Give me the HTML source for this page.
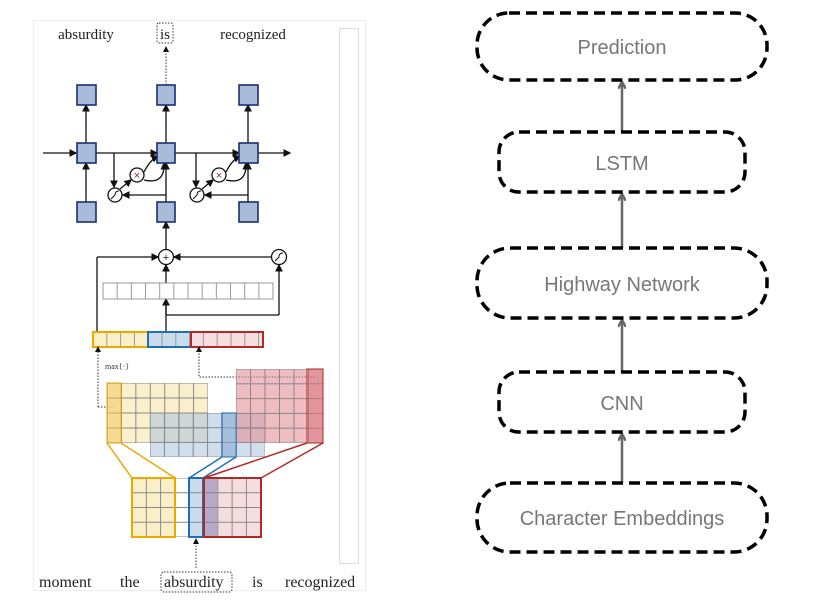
<!DOCTYPE html>
<html><head><meta charset="utf-8"><style>
html,body{margin:0;padding:0;background:#fff;width:831px;height:613px;overflow:hidden}
svg{display:block}
.w{font-family:"Liberation Serif",serif;font-size:15px;fill:#222}
.b{font-family:"Liberation Serif",serif;font-size:16px;fill:#222}
.r{font-family:"Liberation Sans",sans-serif;font-size:20px;fill:#777;text-anchor:middle}
</style></head><body>
<svg width="831" height="613" viewBox="0 0 831 613">
<defs>
<marker id="a" markerWidth="6" markerHeight="6" refX="5" refY="3" orient="auto"><path d="M0,0 L6,3 L0,6z" fill="#111"/></marker>
<marker id="g" markerWidth="8" markerHeight="8" refX="6" refY="4" orient="auto" markerUnits="userSpaceOnUse"><path d="M0,0 L7,4 L0,8" fill="none" stroke="#666" stroke-width="2.5"/></marker>
<pattern id="cy" x="107" y="383" width="14.43" height="15" patternUnits="userSpaceOnUse"><rect width="14.43" height="15" fill="none" stroke="#888" stroke-width="1"/></pattern>
<pattern id="cb" x="150" y="413" width="14.4" height="14.7" patternUnits="userSpaceOnUse"><rect width="14.4" height="14.7" fill="none" stroke="#888" stroke-width="1"/></pattern>
<pattern id="cr" x="236" y="369" width="14.5" height="14.8" patternUnits="userSpaceOnUse"><rect width="14.5" height="14.8" fill="none" stroke="#888" stroke-width="1"/></pattern>
<pattern id="cs" x="132" y="478" width="14.3" height="14.75" patternUnits="userSpaceOnUse"><rect width="14.3" height="14.75" fill="none" stroke="#888" stroke-width="1"/></pattern>
<pattern id="cbar" x="103" y="283" width="14.17" height="16" patternUnits="userSpaceOnUse"><rect width="14.17" height="16" fill="none" stroke="#999" stroke-width="1"/></pattern>
<pattern id="cv" x="93" y="332" width="13.8" height="15" patternUnits="userSpaceOnUse"><rect width="13.8" height="15" fill="none" stroke="#999" stroke-width="1"/></pattern>
</defs>
<rect x="33.5" y="20.5" width="332" height="570" fill="#fff" stroke="#eee"/>
<rect x="339.5" y="28.5" width="19" height="535" fill="#fff" stroke="#ddd"/>
<text class="w" x="86" y="39" text-anchor="middle">absurdity</text>
<text class="w" x="165" y="39" text-anchor="middle">is</text>
<rect x="157" y="23" width="16" height="20" rx="2" fill="none" stroke="#333" stroke-dasharray="1.5,1.5"/>
<text class="w" x="253" y="39" text-anchor="middle">recognized</text>
<line x1="166" y1="85" x2="166" y2="47" stroke="#333" stroke-dasharray="1.5,1.5" marker-end="url(#a)"/>
<g stroke="#111" stroke-width="1.3" fill="none">
<line x1="43" y1="153" x2="76" y2="153" marker-end="url(#a)"/>
<line x1="96" y1="153" x2="157" y2="153" marker-end="url(#a)"/>
<line x1="175" y1="153" x2="239" y2="153" marker-end="url(#a)"/>
<line x1="258" y1="153" x2="290" y2="153" marker-end="url(#a)"/>
<line x1="86" y1="143" x2="86" y2="105" marker-end="url(#a)"/>
<line x1="166" y1="143" x2="166" y2="105" marker-end="url(#a)"/>
<line x1="248" y1="143" x2="248" y2="105" marker-end="url(#a)"/>
<line x1="86" y1="202" x2="86" y2="163" marker-end="url(#a)"/>
<line x1="166" y1="202" x2="166" y2="163" marker-end="url(#a)"/>
<line x1="248" y1="202" x2="248" y2="163" marker-end="url(#a)"/>
<line x1="114" y1="153" x2="114" y2="187" marker-end="url(#a)"/>
<line x1="196" y1="153" x2="196" y2="187" marker-end="url(#a)"/>
<line x1="166" y1="195" x2="123" y2="195" marker-end="url(#a)"/>
<line x1="248" y1="195" x2="205" y2="195" marker-end="url(#a)"/>
<line x1="120" y1="189" x2="131" y2="180" marker-end="url(#a)"/>
<line x1="202" y1="189" x2="213" y2="180" marker-end="url(#a)"/>
<path d="M144,172 Q150,160 158,156" marker-end="url(#a)"/>
<path d="M144,180 Q165,185 164,163" marker-end="url(#a)"/>
<path d="M226,172 Q232,160 240,156" marker-end="url(#a)"/>
<path d="M226,180 Q247,185 246,163" marker-end="url(#a)"/>
<line x1="166" y1="249" x2="166" y2="222" marker-end="url(#a)"/>
<line x1="97" y1="332" x2="97" y2="257"/>
<line x1="97" y1="257" x2="158" y2="257" marker-end="url(#a)"/>
<line x1="271" y1="257" x2="174" y2="257" marker-end="url(#a)"/>
<line x1="279" y1="315" x2="279" y2="265" marker-end="url(#a)"/>
<line x1="166" y1="315" x2="279" y2="315"/>
<line x1="166" y1="283" x2="166" y2="265" marker-end="url(#a)"/>
<line x1="166" y1="332" x2="166" y2="299" marker-end="url(#a)"/>
<line x1="166" y1="299" x2="166" y2="315"/>
</g>
<g fill="#a8bbd8" stroke="#1d2d6e" stroke-width="1.6">
<rect x="77" y="85" width="19" height="20"/><rect x="157" y="85" width="18" height="20"/><rect x="239" y="85" width="19" height="20"/>
<rect x="77" y="143" width="19" height="20"/><rect x="157" y="143" width="18" height="20"/><rect x="239" y="143" width="19" height="20"/>
<rect x="77" y="202" width="19" height="20"/><rect x="157" y="202" width="18" height="20"/><rect x="239" y="202" width="19" height="20"/>
</g>
<g fill="#fff" stroke="#111" stroke-width="1.3">
<circle cx="137" cy="175" r="7"/><circle cx="219" cy="175" r="7"/>
<circle cx="115" cy="195" r="7"/><circle cx="197" cy="195" r="7"/>
<circle cx="166" cy="257" r="7.5"/><circle cx="279" cy="257" r="7.5"/>
</g>
<g font-family="Liberation Sans,sans-serif" font-size="11" text-anchor="middle">
<text x="137" y="179" fill="#733">×</text><text x="219" y="179" fill="#733">×</text>
<text x="166" y="261" fill="#222">+</text>
</g>
<g stroke="#111" fill="none" stroke-width="1"><path d="M111,199 Q115,195 115,195 Q115,191 119,191"/><path d="M193,199 Q197,195 197,195 Q197,191 201,191"/><path d="M275,261 Q279,257 279,257 Q279,253 283,253"/></g>
<rect x="103" y="283" width="170" height="16" fill="url(#cbar)" stroke="#999"/>
<rect x="93" y="332" width="55" height="15" fill="#fbefc8"/><rect x="148" y="332" width="43" height="15" fill="#c9dcec"/><rect x="191" y="332" width="72" height="15" fill="#f6dde0"/>
<rect x="93" y="332" width="170" height="15" fill="url(#cv)"/>
<rect x="93" y="332" width="55" height="15" fill="none" stroke="#f0a800" stroke-width="2"/>
<rect x="148" y="332" width="43" height="15" fill="none" stroke="#1f6fb5" stroke-width="2"/>
<rect x="191" y="332" width="72" height="15" fill="none" stroke="#b02a25" stroke-width="2"/>
<text x="105" y="369" font-family="Liberation Serif,serif" font-size="8" fill="#333">max{·}</text>
<g stroke="#333" stroke-dasharray="1.5,1.5" fill="none">
<path d="M98,407 L98,347" marker-end="url(#a)"/><path d="M98,407 L115,407"/>
<path d="M315,377 L199,377 L199,347" marker-end="url(#a)"/>
</g>
<rect x="107" y="383" width="101" height="60" fill="#f8e9b6" opacity="0.7"/>
<rect x="107" y="383" width="101" height="60" fill="url(#cy)"/>
<rect x="150" y="413" width="115" height="44" fill="#a9c3df" opacity="0.55"/>
<rect x="150" y="413" width="115" height="44" fill="url(#cb)"/>
<rect x="236" y="369" width="87" height="74" fill="#e5909a" opacity="0.6"/>
<rect x="236" y="369" width="87" height="74" fill="url(#cr)"/>
<rect x="107" y="383" width="14" height="60" fill="#f3c55a" opacity="0.5" stroke="#f0a800" stroke-width="2"/>
<rect x="222" y="413" width="14" height="44" fill="#7aa4d0" opacity="0.5" stroke="#1f6fb5" stroke-width="2"/>
<rect x="307" y="369" width="16" height="74" fill="#d9707a" opacity="0.5" stroke="#b02a25" stroke-width="2"/>
<g fill="none" stroke-width="1.5">
<path d="M107,443 L132,478 M121,443 L175,478" stroke="#f0a800"/>
<path d="M222,457 L189,478 M236,457 L203,478" stroke="#1f6fb5"/>
<path d="M307,443 L204,478 M323,443 L261,478" stroke="#b02a25"/>
</g>
<rect x="132" y="478" width="129" height="59" fill="#fff"/>
<rect x="132" y="478" width="43" height="59" fill="#fbefc8"/>
<rect x="189" y="478" width="14" height="59" fill="#c9dcec"/>
<rect x="203" y="478" width="58" height="59" fill="#f6dde0"/>
<rect x="203" y="478" width="14" height="59" fill="#b7a9c8"/>
<rect x="132" y="478" width="129" height="59" fill="url(#cs)"/>
<rect x="132" y="478" width="43" height="59" fill="none" stroke="#f0a800" stroke-width="2"/>
<rect x="189" y="478" width="14" height="59" fill="none" stroke="#1f6fb5" stroke-width="2"/>
<rect x="204" y="478" width="57" height="59" fill="none" stroke="#b02a25" stroke-width="2"/>
<line x1="196" y1="568" x2="196" y2="539" stroke="#333" stroke-dasharray="1.5,1.5" marker-end="url(#a)"/>
<g class="b"><text x="39" y="587">moment</text><text x="120" y="587">the</text><text x="164" y="587">absurdity</text><text x="252" y="587">is</text><text x="285" y="587">recognized</text></g>
<rect x="161" y="572" width="71" height="20" rx="3" fill="none" stroke="#333" stroke-dasharray="1.5,1.5"/>
<g stroke="#666" stroke-width="2.5" fill="none">
<line x1="622" y1="483" x2="622" y2="435" marker-end="url(#g)"/>
<line x1="622" y1="372" x2="622" y2="321" marker-end="url(#g)"/>
<line x1="622" y1="248" x2="622" y2="195" marker-end="url(#g)"/>
<line x1="622" y1="131" x2="622" y2="83" marker-end="url(#g)"/>
</g>
<g fill="#fff" stroke="#000" stroke-width="3.5" stroke-dasharray="11,6">
<rect x="477" y="13" width="290" height="67" rx="32"/>
<rect x="499" y="132" width="246" height="60" rx="20"/>
<rect x="477" y="248" width="290" height="70" rx="33"/>
<rect x="499" y="372" width="246" height="60" rx="20"/>
<rect x="477" y="483" width="290" height="69" rx="33"/>
</g>
<text class="r" x="622" y="54">Prediction</text>
<text class="r" x="622" y="170">LSTM</text>
<text class="r" x="622" y="291">Highway Network</text>
<text class="r" x="622" y="410">CNN</text>
<text class="r" x="622" y="525">Character Embeddings</text>
</svg>
</body></html>
